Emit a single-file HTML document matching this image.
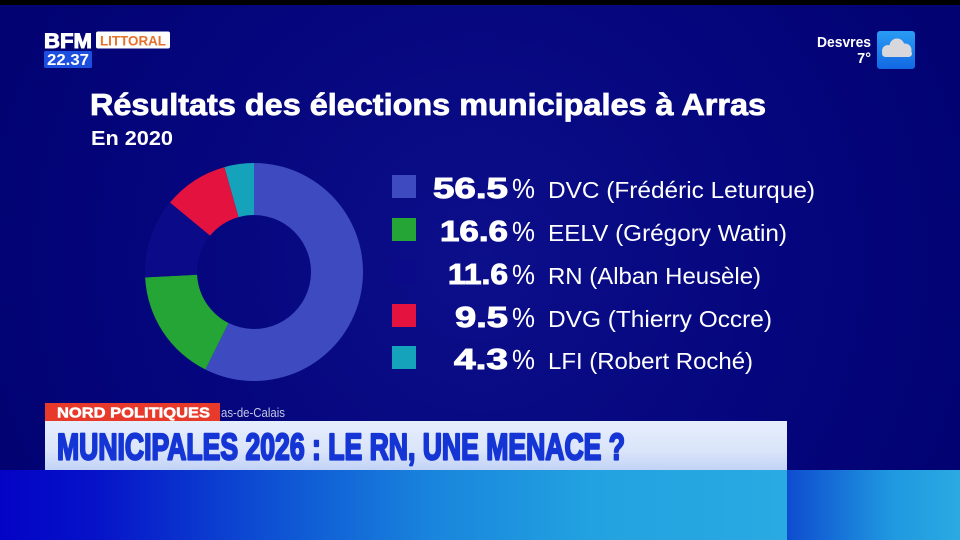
<!DOCTYPE html>
<html><head><meta charset="utf-8"><style>
html,body{margin:0;padding:0;background:#020276;}
svg{display:block;}
text{font-family:"Liberation Sans",sans-serif;}
</style></head><body>
<svg width="960" height="540" viewBox="0 0 960 540" xmlns="http://www.w3.org/2000/svg">
<defs>
<radialGradient id="bg" cx="480" cy="260" r="520" gradientUnits="userSpaceOnUse">
<stop offset="0" stop-color="#0c0f8a"/>
<stop offset="0.6" stop-color="#05067d"/>
<stop offset="1" stop-color="#020272"/>
</radialGradient>
<linearGradient id="bot" x1="0" y1="0" x2="787" y2="0" gradientUnits="userSpaceOnUse">
<stop offset="0" stop-color="#0303c6"/>
<stop offset="0.12" stop-color="#0612c8"/>
<stop offset="0.35" stop-color="#0e52d4"/>
<stop offset="0.55" stop-color="#1985dc"/>
<stop offset="0.75" stop-color="#22a2e0"/>
<stop offset="1" stop-color="#2aaae2"/>
</linearGradient>
<linearGradient id="bot2" x1="787" y1="0" x2="960" y2="0" gradientUnits="userSpaceOnUse">
<stop offset="0" stop-color="#0e4ccf"/>
<stop offset="0.6" stop-color="#1f98e0"/>
<stop offset="1" stop-color="#2aaae2"/>
</linearGradient>
<linearGradient id="band" x1="0" y1="421" x2="0" y2="470" gradientUnits="userSpaceOnUse">
<stop offset="0" stop-color="#e6eefc"/>
<stop offset="0.6" stop-color="#dbe5fa"/>
<stop offset="1" stop-color="#c2d3f6"/>
</linearGradient>
<linearGradient id="wx" x1="0" y1="31" x2="0" y2="69" gradientUnits="userSpaceOnUse">
<stop offset="0" stop-color="#2a9cf4"/>
<stop offset="1" stop-color="#1268e2"/>
</linearGradient>
</defs>
<rect width="960" height="540" fill="url(#bg)"/>
<rect width="960" height="5" fill="#000"/>

<!-- header logo -->
<text x="44" y="48" font-size="21" font-weight="bold" fill="#fff" stroke="#fff" stroke-width="1" textLength="48" lengthAdjust="spacingAndGlyphs">BFM</text>
<rect x="96" y="31.5" width="74" height="17" rx="2" fill="#fff"/>
<text x="100" y="45.5" font-size="13.5" font-weight="bold" fill="#e8702a" textLength="66" lengthAdjust="spacingAndGlyphs">LITTORAL</text>
<rect x="44" y="51" width="48" height="17" rx="1.5" fill="#1c4fe0"/>
<text x="47" y="65" font-size="15.5" font-weight="bold" fill="#fff" textLength="42" lengthAdjust="spacingAndGlyphs">22.37</text>

<!-- weather -->
<text x="871" y="47" font-size="14.5" font-weight="bold" fill="#fff" text-anchor="end" textLength="54" lengthAdjust="spacingAndGlyphs">Desvres</text>
<text x="871" y="63" font-size="14.5" font-weight="bold" fill="#fff" text-anchor="end">7°</text>
<rect x="877" y="31" width="38" height="38" rx="3" fill="url(#wx)"/>
<g fill="#d8d8dc">
<circle cx="888" cy="51" r="6"/>
<circle cx="897" cy="46" r="7.5"/>
<circle cx="905" cy="50" r="6.5"/>
<rect x="882" y="50" width="30" height="7" rx="3.5"/>
</g>

<!-- title -->
<text x="90" y="115" font-size="31" font-weight="bold" fill="#fff" stroke="#fff" stroke-width="0.8" textLength="676" lengthAdjust="spacingAndGlyphs">Résultats des élections municipales à Arras</text>
<text x="91" y="145" font-size="20" font-weight="bold" fill="#fff" textLength="82" lengthAdjust="spacingAndGlyphs">En 2020</text>

<!-- donut -->
<path d="M254,163 A109,109 0 1 1 205.37,369.54 L228.57,323.01 A57,57 0 1 0 254,215 Z" fill="#3e4bc0"/>
<path d="M205.37,369.54 A109,109 0 0 1 145.13,277.38 L197.07,274.81 A57,57 0 0 0 228.57,323.01 Z" fill="#24a535"/>
<path d="M145.13,277.38 A109,109 0 0 1 169.98,202.55 L210.06,235.68 A57,57 0 0 0 197.07,274.81 Z" fill="#0b0b8a"/>
<path d="M169.98,202.55 A109,109 0 0 1 224.48,167.08 L238.56,217.13 A57,57 0 0 0 210.06,235.68 Z" fill="#e3123f"/>
<path d="M224.48,167.08 A109,109 0 0 1 254,163 L254,215 A57,57 0 0 0 238.56,217.13 Z" fill="#14a3bb"/>

<!-- legend -->
<g>
<rect x="392" y="175" width="24" height="23" fill="#3e4bc0"/>
<text x="433" y="198" font-size="29" font-weight="bold" fill="#fff" stroke="#fff" stroke-width="1" textLength="75" lengthAdjust="spacingAndGlyphs">56.5</text>
<text x="512" y="198" font-size="28" fill="#fff" textLength="23" lengthAdjust="spacingAndGlyphs">%</text>
<text x="548" y="198" font-size="23" fill="#fff" textLength="267" lengthAdjust="spacingAndGlyphs">DVC (Frédéric Leturque)</text>

<rect x="392" y="218" width="24" height="23" fill="#24a535"/>
<text x="440" y="241" font-size="29" font-weight="bold" fill="#fff" stroke="#fff" stroke-width="1" textLength="68" lengthAdjust="spacingAndGlyphs">16.6</text>
<text x="512" y="241" font-size="28" fill="#fff" textLength="23" lengthAdjust="spacingAndGlyphs">%</text>
<text x="548" y="241" font-size="23" fill="#fff" textLength="239" lengthAdjust="spacingAndGlyphs">EELV (Grégory Watin)</text>

<rect x="392" y="261" width="24" height="23" fill="#0b0b8a"/>
<text x="448" y="284" font-size="29" font-weight="bold" fill="#fff" stroke="#fff" stroke-width="1" textLength="60" lengthAdjust="spacingAndGlyphs">11.6</text>
<text x="512" y="284" font-size="28" fill="#fff" textLength="23" lengthAdjust="spacingAndGlyphs">%</text>
<text x="548" y="284" font-size="23" fill="#fff" textLength="213" lengthAdjust="spacingAndGlyphs">RN (Alban Heusèle)</text>

<rect x="392" y="304" width="24" height="23" fill="#e3123f"/>
<text x="455" y="327" font-size="29" font-weight="bold" fill="#fff" stroke="#fff" stroke-width="1" textLength="53" lengthAdjust="spacingAndGlyphs">9.5</text>
<text x="512" y="327" font-size="28" fill="#fff" textLength="23" lengthAdjust="spacingAndGlyphs">%</text>
<text x="548" y="327" font-size="23" fill="#fff" textLength="224" lengthAdjust="spacingAndGlyphs">DVG (Thierry Occre)</text>

<rect x="392" y="346" width="24" height="23" fill="#14a3bb"/>
<text x="454" y="369" font-size="29" font-weight="bold" fill="#fff" stroke="#fff" stroke-width="1" textLength="54" lengthAdjust="spacingAndGlyphs">4.3</text>
<text x="512" y="369" font-size="28" fill="#fff" textLength="23" lengthAdjust="spacingAndGlyphs">%</text>
<text x="548" y="369" font-size="23" fill="#fff" textLength="205" lengthAdjust="spacingAndGlyphs">LFI (Robert Roché)</text>
</g>

<!-- lower third -->
<text x="221" y="417" font-size="13" fill="#c4c8e6" textLength="64" lengthAdjust="spacingAndGlyphs">as-de-Calais</text>
<rect x="45" y="403" width="175" height="18" fill="#e83a2a"/>
<text x="57" y="417.5" font-size="14.5" font-weight="bold" fill="#fff" stroke="#fff" stroke-width="0.5" textLength="153" lengthAdjust="spacingAndGlyphs">NORD POLITIQUES</text>
<rect x="45" y="421" width="742" height="49" fill="url(#band)"/>
<text x="57" y="459.5" font-size="37" font-weight="bold" fill="#1535d5" stroke="#1535d5" stroke-width="2.2" stroke-linejoin="round" textLength="568" lengthAdjust="spacingAndGlyphs">MUNICIPALES 2026 : LE RN, UNE MENACE ?</text>

<rect x="0" y="470" width="787" height="70" fill="url(#bot)"/>
<rect x="787" y="470" width="173" height="70" fill="url(#bot2)"/>
</svg>
</body></html>
